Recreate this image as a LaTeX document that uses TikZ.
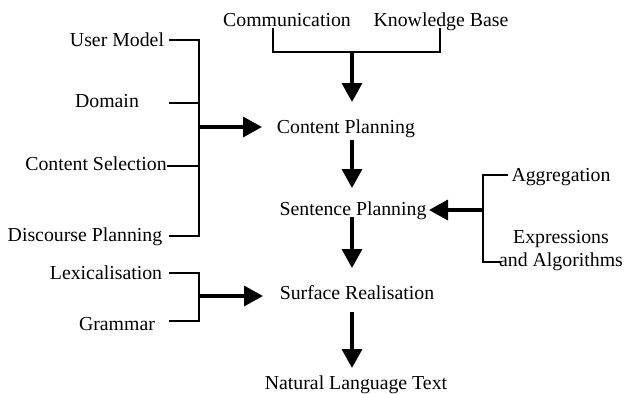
\documentclass[tikz,border=0pt]{standalone}
\usepackage{fontspec}
\setmainfont{Liberation Serif}
\usetikzlibrary{arrows.meta}
\begin{document}
\begin{tikzpicture}[x=1pt,y=-1pt,
  font=\fontsize{19.8}{23}\selectfont,
  lbl/.style={inner sep=0pt, anchor=mid, yshift=-4.5pt},
  br/.style={line width=1.6pt, line cap=rect},
  ar/.style={line width=3.5pt, -{Triangle[length=19pt,width=20pt]}}]
\useasboundingbox (0,0) rectangle (625,394);
% nodes
\node[lbl] (comm) at (287,20) {Communication};
\node[lbl] (kb) at (441,20) {Knowledge Base};
\node[lbl] (cp) at (346,127) {Content Planning};
\node[lbl] (sp) at (353,209) {Sentence Planning};
\node[lbl] (sr) at (357,293) {Surface Realisation};
\node[lbl] (nlt) at (356,383) {Natural Language Text};
\node[lbl] (um) at (117,40) {User Model};
\node[lbl] (dom) at (107,101) {Domain};
\node[lbl] (cs) at (96,164) {Content Selection};
\node[lbl] (dp) at (85,235) {Discourse Planning};
\node[lbl] (lex) at (106,273) {Lexicalisation};
\node[lbl] (gram) at (117,324) {Grammar};
\node[lbl] (agg) at (561,175) {Aggregation};
\node[inner sep=0pt, align=center, yshift=-5pt] (expr) at (561,246) {Expressions\\and Algorithms};
% top bracket
\coordinate (cj) at (352,52);
\coordinate (ct1) at (273,29);
\coordinate (ct2) at (440,29);
\draw[br] (ct1) |- (cj) -| (ct2);
\draw[ar] (cj) -- (cj |- 0,102);
% left bracket
\coordinate (s1) at (170,40);
\coordinate (s2) at (170,103);
\coordinate (s3) at (168,166);
\coordinate (s4) at (170,236);
\coordinate (lj) at (199,127);
\draw[br] (s1) -| (199,236) -- (s4);
\draw[br] (s2) -- (s2 -| lj);
\draw[br] (s3) -- (s3 -| lj);
\draw[ar] (lj) -- (262,127);
% right bracket
\coordinate (r1) at (507,175);
\coordinate (r2) at (500,262);
\coordinate (rj) at (483,210);
\draw[br] (r1) -| (rj |- r2) -- (r2);
\draw[ar] (rj) -- (429,210);
% lower-left bracket
\coordinate (l1) at (170,273);
\coordinate (l2) at (170,321);
\coordinate (llj) at (199,296);
\draw[br] (l1) -| (llj |- l2) -- (l2);
\draw[ar] (llj) -- (263,296);
% main column
\draw[ar] (352,140) -- (352,188);
\draw[ar] (352,217) -- (352,268);
\draw[ar] (352,312) -- (352,368);
\end{tikzpicture}
\end{document}
